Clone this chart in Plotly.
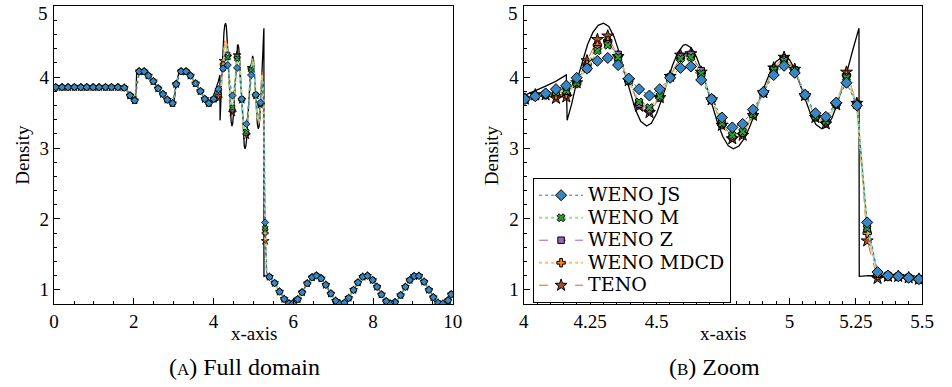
import plotly.graph_objects as go

# ---------------- data ----------------
# reference (exact) solution
ref_x = [0.0, 1.75, 1.80, 1.85, 1.90, 1.95, 2.00, 2.03, 2.05, 2.07, 2.10, 2.20, 2.30, 2.40,
         2.50, 2.60, 2.70, 2.80, 2.90, 2.98, 3.02, 3.06, 3.12, 3.20, 3.30, 3.40, 3.50, 3.60,
         3.70, 3.80, 3.88, 3.95, 4.00, 4.04, 4.08, 4.12, 4.16, 4.163, 4.18, 4.20, 4.22, 4.24,
         4.26, 4.28, 4.30, 4.32, 4.34, 4.36, 4.38, 4.40, 4.42, 4.44, 4.462, 4.48, 4.50, 4.52,
         4.54, 4.56, 4.58, 4.60, 4.61, 4.63, 4.65, 4.67, 4.69, 4.71, 4.73, 4.75, 4.77, 4.789,
         4.81, 4.83, 4.85, 4.87, 4.89, 4.91, 4.93, 4.95, 4.98, 5.00, 5.02, 5.04, 5.06, 5.08,
         5.10, 5.122, 5.14, 5.16, 5.18, 5.20, 5.22, 5.24, 5.255, 5.262, 5.263, 5.30, 5.40,
         5.50, 5.60, 5.70, 5.80, 5.90, 6.00, 6.10, 6.20, 6.30, 6.40, 6.50, 6.60, 6.70, 6.80,
         6.90, 7.00, 7.10, 7.20, 7.30, 7.40, 7.50, 7.60, 7.70, 7.80, 7.90, 8.00, 8.10, 8.20,
         8.30, 8.40, 8.50, 8.60, 8.70, 8.80, 8.90, 9.00, 9.10, 9.20, 9.30, 9.40, 9.50, 9.60,
         9.70, 9.80, 9.90, 10.0]
ref_y = [3.857, 3.857, 3.85, 3.80, 3.74, 3.70, 3.67, 3.65, 3.70, 4.05, 4.08, 4.09, 4.06, 4.00,
         3.93, 3.85, 3.77, 3.70, 3.65, 3.62, 3.70, 3.90, 4.04, 4.09, 4.08, 4.03, 3.95, 3.86,
         3.77, 3.68, 3.63, 3.66, 3.74, 3.80, 3.87, 3.94, 4.03, 3.39, 3.62, 3.95, 4.22, 4.46,
         4.63, 4.73, 4.76, 4.715, 4.567, 4.338, 4.06, 3.784, 3.542, 3.376, 3.31, 3.35, 3.487, 3.693,
         3.934, 4.166, 4.347, 4.447, 4.46, 4.415, 4.286, 4.088, 3.847, 3.59, 3.35, 3.155, 3.031, 2.99,
         3.029, 3.134, 3.292, 3.49, 3.704, 3.911, 4.09, 4.222, 4.30, 4.25, 4.11, 3.909, 3.683, 3.477,
         3.33, 3.27, 3.30, 3.42, 3.62, 3.86, 4.12, 4.40, 4.62, 4.69, 1.19, 1.199, 1.182,
         1.120, 1.028, 0.930, 0.849, 0.804, 0.808, 0.859, 0.944, 1.043, 1.131, 1.188, 1.198, 1.160, 1.082,
         0.985, 0.891, 0.824, 0.800, 0.825, 0.893, 0.987, 1.084, 1.161, 1.198, 1.187, 1.130, 1.041, 0.942,
         0.858, 0.808, 0.804, 0.850, 0.932, 1.030, 1.121, 1.183, 1.199, 1.167, 1.093, 0.998, 0.903, 0.831,
         0.801, 0.819, 0.882, 0.974]

# numerical solutions on the zoom window (cell centres)
x_zoom = [4.004, 4.043, 4.082, 4.121, 4.160, 4.199, 4.238, 4.277, 4.316, 4.355, 4.395, 4.434,
          4.473, 4.512, 4.551, 4.590, 4.629, 4.668, 4.707, 4.746, 4.785, 4.824, 4.863, 4.902,
          4.941, 4.980, 5.020, 5.059, 5.098, 5.137, 5.176, 5.215, 5.254, 5.293, 5.332, 5.371,
          5.410, 5.449, 5.488]
rho_js = [3.69, 3.73, 3.77, 3.83, 3.88, 3.99, 4.12, 4.23, 4.27, 4.17, 3.98, 3.83, 3.74, 3.83,
          3.99, 4.13, 4.15, 3.96, 3.69, 3.43, 3.29, 3.34, 3.54, 3.79, 4.03, 4.16, 4.06, 3.75,
          3.49, 3.44, 3.64, 3.92, 3.60, 1.95, 1.25, 1.20, 1.19, 1.17, 1.15]
rho_m = [3.69, 3.73, 3.76, 3.79, 3.81, 3.92, 4.12, 4.37, 4.45, 4.28, 3.95, 3.65, 3.57, 3.73,
         4.00, 4.26, 4.28, 4.05, 3.69, 3.35, 3.18, 3.23, 3.48, 3.78, 4.10, 4.23, 4.09, 3.75,
         3.45, 3.38, 3.63, 3.99, 3.61, 1.87, 1.23, 1.20, 1.19, 1.17, 1.15]
rho_z = [3.69, 3.73, 3.76, 3.78, 3.80, 3.92, 4.14, 4.40, 4.47, 4.32, 3.95, 3.62, 3.54, 3.71,
         4.00, 4.29, 4.32, 4.09, 3.69, 3.34, 3.16, 3.21, 3.47, 3.78, 4.11, 4.25, 4.10, 3.75,
         3.44, 3.37, 3.62, 4.00, 3.62, 1.86, 1.22, 1.20, 1.19, 1.17, 1.15]
rho_mdcd = [3.69, 3.74, 3.75, 3.74, 3.76, 3.91, 4.18, 4.45, 4.51, 4.30, 3.95, 3.62, 3.53, 3.72,
            4.00, 4.28, 4.30, 4.06, 3.68, 3.33, 3.15, 3.20, 3.47, 3.78, 4.12, 4.26, 4.10, 3.74,
            3.44, 3.36, 3.62, 4.03, 3.62, 1.80, 1.20, 1.19, 1.19, 1.17, 1.15]
rho_teno = [3.69, 3.75, 3.75, 3.70, 3.72, 3.92, 4.23, 4.53, 4.58, 4.29, 3.95, 3.59, 3.50, 3.71,
            4.01, 4.31, 4.33, 4.07, 3.68, 3.32, 3.13, 3.18, 3.46, 3.78, 4.13, 4.28, 4.11, 3.74,
            3.43, 3.34, 3.61, 4.07, 3.63, 1.69, 1.16, 1.19, 1.19, 1.17, 1.15]

# full-domain samples shown as markers (all schemes coincide here)
x_pre = [0.04, 0.20, 0.35, 0.51, 0.67, 0.82, 0.98, 1.13, 1.29, 1.44, 1.60, 1.76, 1.905, 2.02,
         2.135, 2.26, 2.365, 2.49, 2.61, 2.73, 2.84, 2.97, 3.06, 3.185, 3.31, 3.42, 3.55, 3.67,
         3.78, 3.88]
rho_pre = [3.857, 3.857, 3.857, 3.857, 3.857, 3.857, 3.857, 3.857, 3.857, 3.857, 3.857, 3.85,
           3.74, 3.67, 4.08, 4.08, 4.02, 3.94, 3.84, 3.76, 3.68, 3.63, 3.90, 4.08, 4.08, 4.02,
           3.91, 3.80, 3.69, 3.63]
x_post = [5.40, 5.53, 5.655, 5.77, 5.89, 5.99, 6.11, 6.22, 6.35, 6.47, 6.58, 6.70, 6.815, 6.94,
          7.06, 7.17, 7.28, 7.39, 7.51, 7.62, 7.74, 7.86, 7.99, 8.10, 8.21, 8.33, 8.44, 8.55,
          8.69, 8.81, 8.92, 9.03, 9.15, 9.28, 9.40, 9.51, 9.63, 9.75, 9.88, 9.96]
rho_post = [1.182, 1.094, 0.973, 0.870, 0.807, 0.806, 0.866, 0.964, 1.090, 1.175, 1.200, 1.160,
            1.069, 0.946, 0.845, 0.802, 0.815, 0.885, 0.997, 1.102, 1.183, 1.198, 1.137, 1.041,
            0.933, 0.838, 0.801, 0.824, 0.923, 1.040, 1.137, 1.193, 1.195, 1.113, 0.998, 0.894,
            0.816, 0.802, 0.850, 0.935]
marked_zoom_idx = [0, 3, 6, 9, 12, 15, 18, 21, 24, 27, 30, 33]

names = ["WENO JS", "WENO M", "WENO Z", "WENO MDCD", "TENO"]
series = [rho_js, rho_m, rho_z, rho_mdcd, rho_teno]

y_tickvals = [1, 2, 3, 4, 5]
y_ticktext = ["1", "2", "3", "4", "5"]

# ---------------- styles ----------------
styles = {
    "WENO JS":   dict(sym="diamond", fill="#3a86c2", lc="#1f77b4", dash="dot", lw=1.0, s=8.5, sl=5.5),
    "WENO M":    dict(sym="x", fill="#2ca02c", lc="#98df8a", dash="dot", lw=2.0, s=7, sl=5),
    "WENO Z":    dict(sym="square", fill="#9467bd", lc="#9467bd", dash="dash", lw=1.0, s=6.5, sl=4.5),
    "WENO MDCD": dict(sym="cross", fill="#ff7f0e", lc="#ffbb78", dash="dot", lw=2.0, s=7, sl=5),
    "TENO":      dict(sym="star", fill="#a5522a", lc="#d8622a", dash="dash", lw=1.0, s=9, sl=6),
}

FONT = "Liberation Serif"
LFONT = "DejaVu Serif"
fig = go.Figure()

# reference solution (behind)
fig.add_trace(go.Scatter(x=ref_x, y=ref_y, mode="lines", line=dict(color="black", width=1.3),
                         showlegend=False, xaxis="x", yaxis="y", hoverinfo="skip"))
fig.add_trace(go.Scatter(x=ref_x, y=ref_y, mode="lines", line=dict(color="black", width=1.3),
                         showlegend=False, xaxis="x2", yaxis="y2", hoverinfo="skip"))

# add in reverse so WENO JS is drawn on top
for name, rho in reversed(list(zip(names, series))):
    st = styles[name]
    lx = x_pre + x_zoom + x_post
    ly = rho_pre + rho + rho_post
    fig.add_trace(go.Scatter(x=lx, y=ly, mode="lines",
                             line=dict(color=st["lc"], width=st["lw"], dash=st["dash"]),
                             showlegend=False, xaxis="x", yaxis="y"))
    mx = x_pre + [x_zoom[i] for i in marked_zoom_idx] + x_post
    my = rho_pre + [rho[i] for i in marked_zoom_idx] + rho_post
    fig.add_trace(go.Scatter(x=mx, y=my, mode="markers",
                             marker=dict(symbol=st["sym"], size=st["sl"], color=st["fill"],
                                         line=dict(color="black", width=0.8)),
                             showlegend=False, xaxis="x", yaxis="y"))
    fig.add_trace(go.Scatter(x=x_zoom, y=rho, mode="lines+markers",
                             name=f"<span style='font-size:19px'>{name}</span>",
                             line=dict(color=st["lc"], width=st["lw"], dash=st["dash"]),
                             marker=dict(symbol=st["sym"], size=st["s"], color=st["fill"],
                                         line=dict(color="black", width=1)),
                             xaxis="x2", yaxis="y2"))

ax_common = dict(showline=True, mirror=True, linecolor="black", linewidth=1.4,
                 ticks="inside", ticklen=6, tickwidth=1, tickcolor="black",
                 showgrid=False, zeroline=False,
                 tickfont=dict(family=FONT, size=19, color="black"))

# top label "5" sits a little below the frame (as in the reference): drawn separately
y_main_text = [t if v != 5 else "" for v, t in zip(y_tickvals, y_ticktext)]

fig.update_layout(
    width=952, height=387, margin=dict(l=0, r=0, t=0, b=0),
    plot_bgcolor="white", paper_bgcolor="white",
    xaxis=dict(domain=[0.0525, 0.4790], range=[0, 10.001], tickvals=[0, 2, 4, 6, 8, 10],
               minor=dict(dtick=0.5, ticks="inside", ticklen=3, tickcolor="black"),
               anchor="y", **ax_common),
    yaxis=dict(domain=[0.2145, 0.9845], range=[0.8, 5.003], tickvals=y_tickvals,
               ticktext=y_main_text,
               minor=dict(dtick=0.2, ticks="inside", ticklen=3, tickcolor="black"),
               anchor="x", **ax_common),
    xaxis2=dict(domain=[0.5549, 0.9810], range=[4, 5.5002],
                tickvals=[4, 4.25, 4.5, 4.75, 5, 5.25, 5.5],
                ticktext=["4", "4.25", "4.5", "", "5", "5.25", "5.5"],
                minor=dict(dtick=0.05, ticks="inside", ticklen=3, tickcolor="black"),
                anchor="y2", **ax_common),
    yaxis2=dict(domain=[0.2145, 0.9845], range=[0.8, 5.003], tickvals=y_tickvals,
                ticktext=y_main_text,
                minor=dict(dtick=0.2, ticks="inside", ticklen=3, tickcolor="black"),
                anchor="x2", **ax_common),
    legend=dict(x=0.5648, y=0.5401, xanchor="left", yanchor="top",
                bgcolor="white", bordercolor="black", borderwidth=1,
                font=dict(family=LFONT, size=15, color="black"),
                traceorder="reversed", itemwidth=44, tracegroupgap=0),
    showlegend=True,
)

for xr in ["x domain", "x2 domain"]:
    fig.add_annotation(text=y_ticktext[-1], xref=xr, yref="paper", x=0, xshift=-4,
                       y=(387 - 13) / 387, xanchor="right", yanchor="middle", showarrow=False,
                       font=dict(family=FONT, size=19, color="black"))

ann = [
    dict(text="x-axis", x=0.2658, y=(387 - 333) / 387),
    dict(text="x-axis", x=0.7680, y=(387 - 333) / 387),
    dict(text="Density", x=17 / 952, y=(387 - 155) / 387, textangle=-90),
    dict(text="Density", x=495 / 952, y=(387 - 155) / 387, textangle=-90),
]
for a in ann:
    fig.add_annotation(xref="paper", yref="paper", showarrow=False, xanchor="center",
                       yanchor="middle", font=dict(family=FONT, size=19, color="black"), **a)
for txt, cx in [("(<span style='font-size:17px'>A</span>) Full domain", 244 / 952),
                ("(<span style='font-size:17px'>B</span>) Zoom", 722 / 952)]:
    fig.add_annotation(text=txt, x=cx, y=(387 - 367) / 387, xref="paper", yref="paper",
                       showarrow=False, xanchor="center", yanchor="middle",
                       font=dict(family=FONT, size=24, color="black"))

fig.write_html("out.html")
